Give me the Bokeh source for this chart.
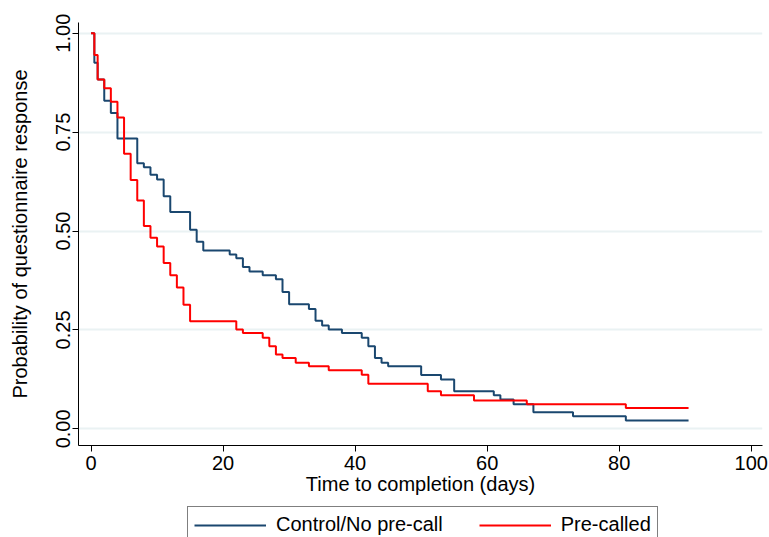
from bokeh.plotting import figure
from bokeh.layouts import column
from bokeh.models import Range1d, FixedTicker, PrintfTickFormatter, Legend, LegendItem
from bokeh.embed import file_html
from bokeh.resources import INLINE

# Kaplan-Meier estimates
control_t = [0, 0.5, 1, 2, 3, 4, 7, 8, 9, 10, 11, 12, 15, 16, 17, 21, 22, 23, 24, 26, 28, 29, 30,
             33, 34, 35, 36, 38, 41, 42, 43, 44, 45, 50, 53, 55, 61, 62, 64, 67, 73, 81, 90.5]
control_s = [1.0, 0.925, 0.883, 0.829, 0.798, 0.734, 0.671, 0.661, 0.642, 0.630, 0.588, 0.548,
             0.503, 0.473, 0.451, 0.441, 0.431, 0.409, 0.398, 0.388, 0.378, 0.346, 0.315,
             0.303, 0.273, 0.261, 0.251, 0.242, 0.230, 0.209, 0.179, 0.167, 0.158, 0.136,
             0.125, 0.095, 0.085, 0.074, 0.062, 0.042, 0.032, 0.021, 0.021]

precall_t = [0, 0.5, 1, 2, 3, 4, 5, 6, 7, 8, 9, 10, 11, 12, 13, 14, 15, 22, 23, 26, 27, 28, 29,
             31, 33, 36, 41, 42, 51, 53, 58, 66, 81, 90.5]
precall_s = [1.0, 0.945, 0.883, 0.861, 0.827, 0.787, 0.695, 0.629, 0.577, 0.513, 0.483, 0.461,
             0.419, 0.388, 0.357, 0.314, 0.272, 0.251, 0.242, 0.230, 0.209, 0.188, 0.179,
             0.167, 0.158, 0.148, 0.137, 0.114, 0.095, 0.085, 0.072, 0.062, 0.053, 0.053]

x_ticks = [0, 20, 40, 60, 80, 100]
y_ticks = [0.0, 0.25, 0.5, 0.75, 1.0]
series_labels = ["Control/No pre-call", "Pre-called"]
series_colors = ["#1a476f", "#ff0000"]

FONT = "Liberation Sans"

p = figure(width=769, height=505, output_backend="svg", toolbar_location=None,
           x_range=Range1d(-1.9, 101.7), y_range=Range1d(-0.042, 1.027),
           min_border_left=78, min_border_right=7, min_border_top=22, min_border_bottom=60)
p.outline_line_color = None
p.background_fill_color = "white"
p.border_fill_color = "white"

p.step(control_t, control_s, mode="after", line_color=series_colors[0], line_width=2)
p.step(precall_t, precall_s, mode="after", line_color=series_colors[1], line_width=2)

p.xgrid.visible = False
p.ygrid.ticker = FixedTicker(ticks=y_ticks)
p.ygrid.grid_line_color = "#eaf2f3"
p.ygrid.grid_line_width = 2

for ax in (p.xaxis[0], p.yaxis[0]):
    ax.axis_line_color = "#000000"
    ax.axis_line_width = 1
    ax.major_tick_line_color = "#000000"
    ax.major_tick_out = 6
    ax.major_tick_in = 0
    ax.minor_tick_out = 0
    ax.minor_tick_in = 0
    ax.major_label_text_font = FONT
    ax.major_label_text_font_size = "20px"
    ax.major_label_text_color = "#000000"
    ax.axis_label_text_font = FONT
    ax.axis_label_text_font_size = "20px"
    ax.axis_label_text_font_style = "normal"
    ax.axis_label_text_color = "#000000"

p.xaxis.ticker = FixedTicker(ticks=x_ticks)
p.yaxis.ticker = FixedTicker(ticks=y_ticks)
p.yaxis.formatter = PrintfTickFormatter(format="%.2f")
p.yaxis.major_label_orientation = "vertical"
p.xaxis.axis_label = "Time to completion (days)"
p.yaxis.axis_label = "Probability of questionnaire response"
p.xaxis.major_label_standoff = 4
p.xaxis.axis_label_standoff = 0
p.yaxis.major_label_standoff = 2
p.yaxis.axis_label_standoff = 23

# legend strip below the plot (its frame is aligned with the main plot's frame)
lg = figure(width=769, height=32, output_backend="svg", toolbar_location=None,
            x_axis_type=None, y_axis_type=None, x_range=Range1d(0, 1), y_range=Range1d(0, 1),
            min_border_left=0, min_border_right=0, min_border_top=0, min_border_bottom=0)
lg.outline_line_color = None
lg.xgrid.visible = False
lg.ygrid.visible = False
# keys only: their data lie outside the strip's ranges
l1 = lg.line([5, 6], [5, 6], line_color=series_colors[0], line_width=2)
l2 = lg.line([5, 6], [5, 6], line_color=series_colors[1], line_width=2)

legend = Legend(items=[LegendItem(label=series_labels[0], renderers=[l1]),
                       LegendItem(label=series_labels[1], renderers=[l2])],
                orientation="horizontal", location=(109, -6),
                border_line_color="#000000", border_line_width=1,
                background_fill_color="white", background_fill_alpha=1.0,
                label_text_font=FONT, label_text_font_size="20px",
                label_text_color="#000000",
                glyph_width=72, glyph_height=20, label_standoff=10, spacing=36,
                padding=6, margin=0)
lg.add_layout(legend, "center")

layout = column(p, lg, spacing=0)
open("out.html", "w").write(file_html(layout, INLINE))
